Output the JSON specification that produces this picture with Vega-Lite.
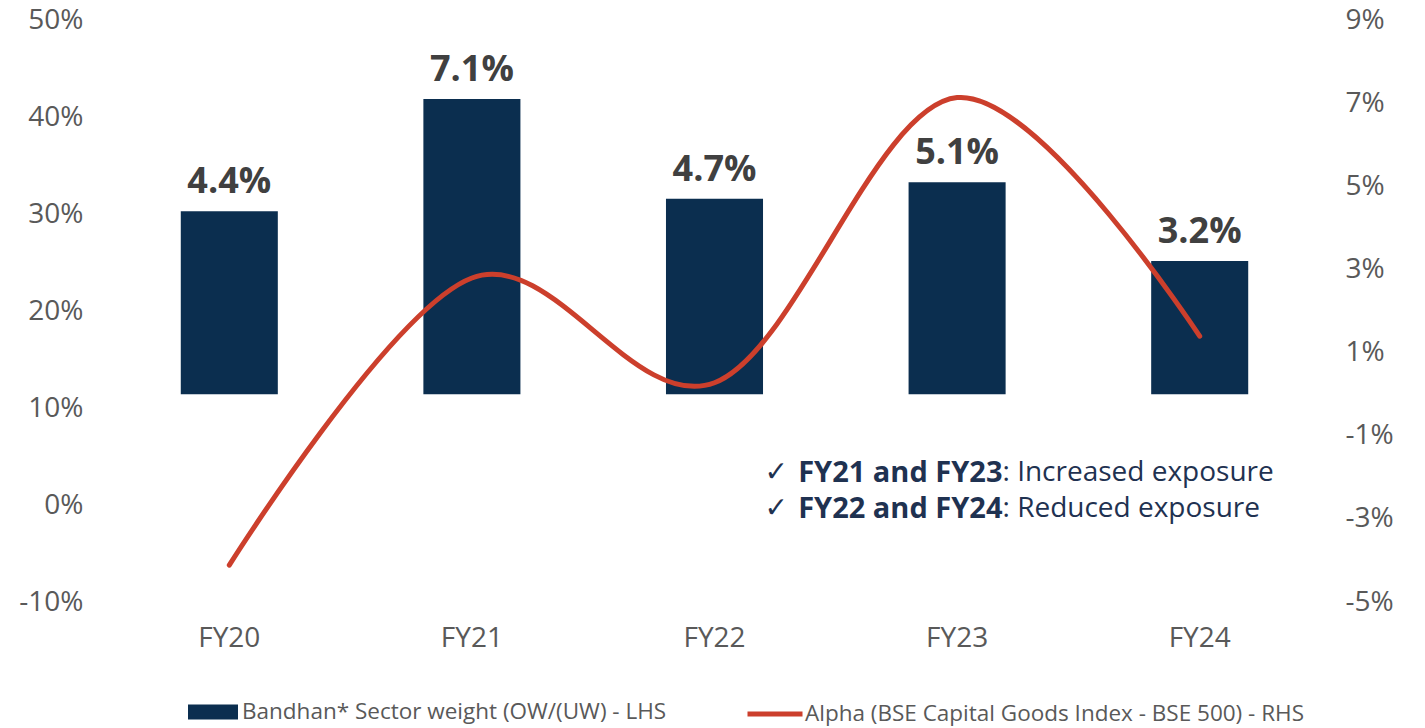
{
  "$schema": "https://vega.github.io/schema/vega-lite/v6.json",
  "width": 1213,
  "height": 582,
  "autosize": {"type": "none"},
  "padding": {"left": 108, "top": 20, "right": 104, "bottom": 126},
  "background": "white",
  "config": {
    "view": {"stroke": null},
    "font": "Open Sans",
    "axis": {"grid": false, "domain": false, "ticks": false, "labelColor": "#595959", "labelFontSize": 28, "labelFont": "Open Sans", "title": null},
    "legend": {"orient": "none", "padding": 0, "labelFont": "Open Sans", "labelFontSize": 22.5, "labelColor": "#595959", "title": null, "labelLimit": 700}
  },
  "data": {
    "values": [
      {"fy": "FY20", "weight": 4.4, "alpha": -6.2},
      {"fy": "FY21", "weight": 7.1, "alpha": 23.4},
      {"fy": "FY22", "weight": 4.7, "alpha": 12.6},
      {"fy": "FY23", "weight": 5.1, "alpha": 42.0},
      {"fy": "FY24", "weight": 3.2, "alpha": 17.4}
    ]
  },
  "encoding": {
    "x": {"field": "fy", "type": "nominal", "scale": {"paddingInner": 0.6, "paddingOuter": 0.3}, "axis": {"labelAngle": 0, "labelPadding": 22}}
  },
  "layer": [
    {
      "encoding": {
        "y": {"field": "weight", "type": "quantitative", "scale": {"domain": [-5, 9], "nice": false, "zero": false},
              "axis": {"orient": "right", "values": [-5, -3, -1, 1, 3, 5, 7, 9], "labelExpr": "datum.value + '%'", "labelPadding": 24}}
      },
      "layer": [
        {
          "mark": {"type": "bar"},
          "encoding": {
            "fill": {"datum": "Bandhan* Sector weight (OW/(UW) - LHS", "scale": {"range": ["#0B2E4F"]},
                     "legend": {"legendX": 80, "legendY": 667, "symbolType": "M-1,-0.3H1V0.3H-1Z", "symbolSize": 2500, "labelOffset": 4, "symbolStrokeWidth": 0}}
          }
        },
        {
          "transform": [{"calculate": "format(datum.weight, '.1f') + '%'", "as": "label"}],
          "mark": {"type": "text", "baseline": "bottom", "dy": -10, "fontSize": 36, "fontWeight": "bold", "color": "#404040"},
          "encoding": {"text": {"field": "label", "type": "nominal"}}
        }
      ]
    },
    {
      "encoding": {
        "y": {"field": "alpha", "type": "quantitative", "scale": {"domain": [-10, 50], "nice": false, "zero": false},
              "axis": {"orient": "left", "values": [-10, 0, 10, 20, 30, 40, 50], "labelExpr": "datum.value + '%'", "labelPadding": 25}}
      },
      "layer": [
        {
          "mark": {"type": "line", "interpolate": "cardinal", "strokeWidth": 5, "strokeCap": "round"},
          "encoding": {
            "x": {"field": "fy", "type": "nominal", "bandPosition": 0.5},
            "stroke": {"datum": "Alpha (BSE Capital Goods Index - BSE 500) - RHS", "scale": {"range": ["#CC3F2C"]},
                       "legend": {"legendX": 637, "legendY": 664, "symbolType": "stroke", "symbolSize": 3025, "symbolStrokeWidth": 5, "labelOffset": 0}}
          }
        },
        {
          "data": {"values": [
            {"check": "✓", "bold": "FY21 and FY23", "rest": ": Increased exposure", "pos": 3.3},
            {"check": "✓", "bold": "FY22 and FY24", "rest": ": Reduced exposure", "pos": -0.4}
          ]},
          "layer": [
            {
              "mark": {"type": "text", "align": "left", "baseline": "middle", "dx": 50, "fontSize": 28, "color": "#1F3251", "font": "DejaVu Sans"},
              "encoding": {"x": {"datum": "FY22", "bandPosition": 0.5}, "y": {"field": "pos", "type": "quantitative"}, "text": {"field": "check"}}
            },
            {
              "mark": {"type": "text", "align": "right", "baseline": "middle", "dx": 288, "fontSize": 29, "fontWeight": "bold", "color": "#1F3251"},
              "encoding": {"x": {"datum": "FY22", "bandPosition": 0.5}, "y": {"field": "pos", "type": "quantitative"}, "text": {"field": "bold"}}
            },
            {
              "mark": {"type": "text", "align": "left", "baseline": "middle", "dx": 288, "fontSize": 28, "color": "#1F3251"},
              "encoding": {"x": {"datum": "FY22", "bandPosition": 0.5}, "y": {"field": "pos", "type": "quantitative"}, "text": {"field": "rest"}}
            }
          ]
        }
      ]
    }
  ],
  "resolve": {"scale": {"y": "independent", "fill": "independent", "stroke": "independent"}}
}
